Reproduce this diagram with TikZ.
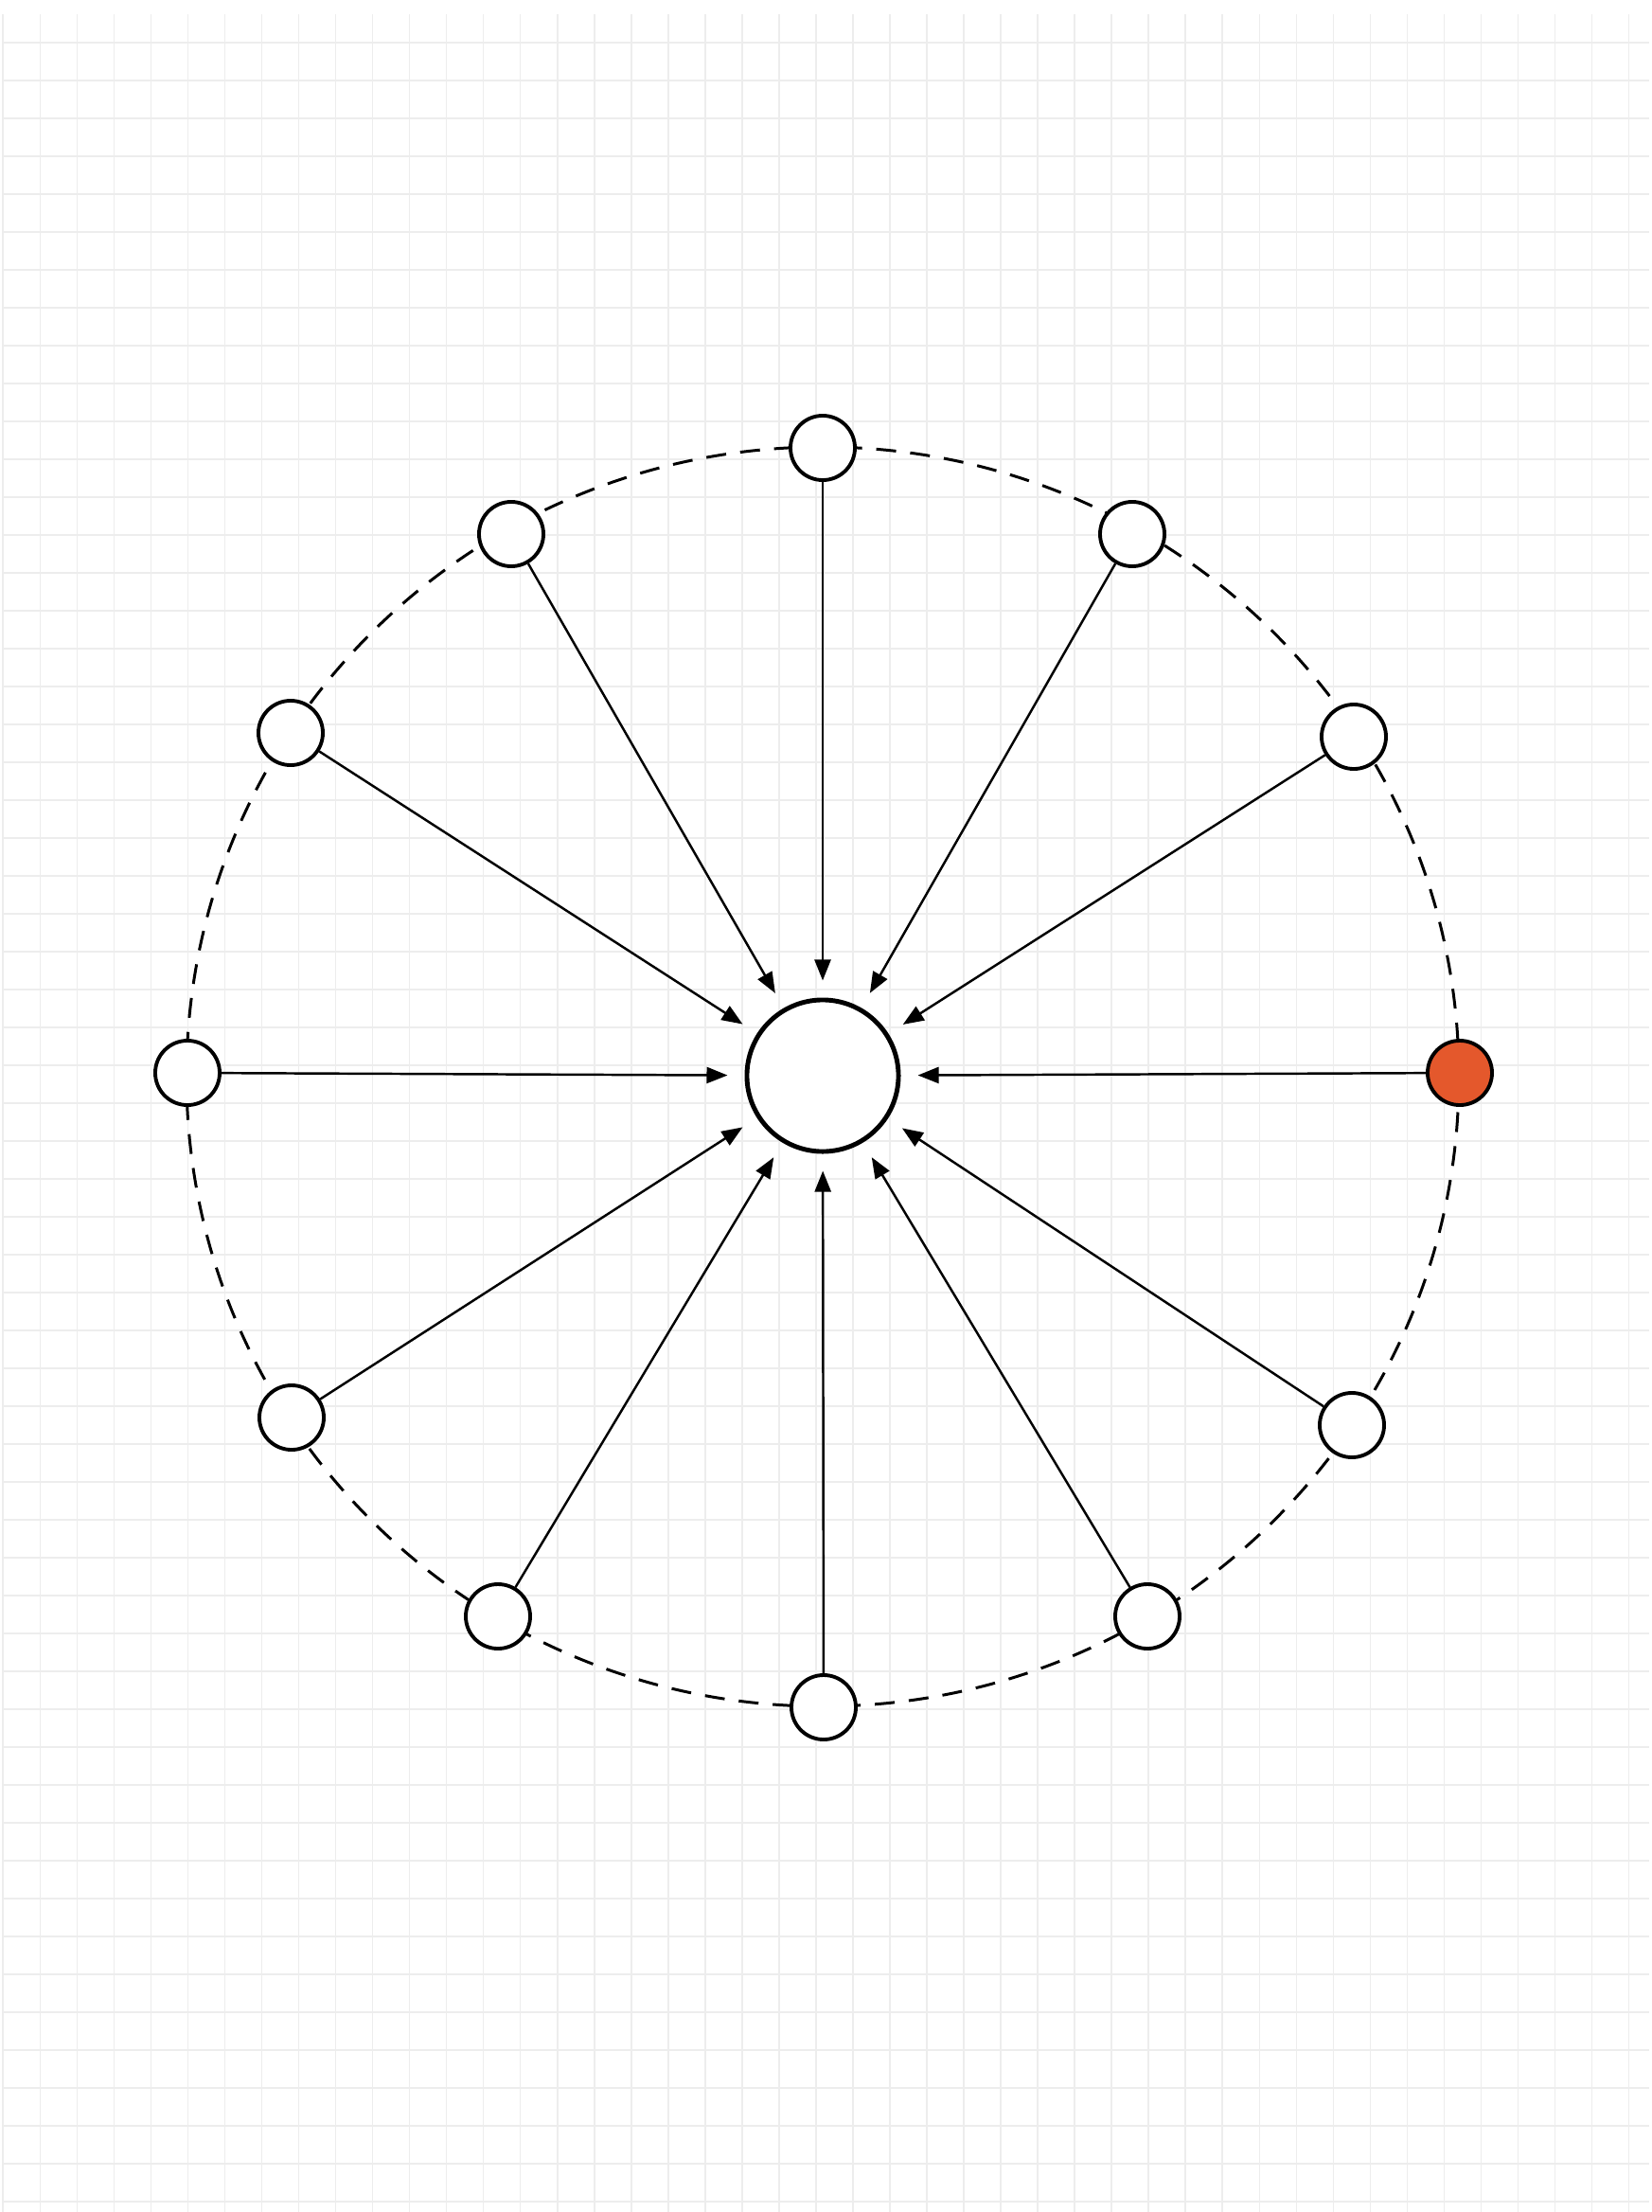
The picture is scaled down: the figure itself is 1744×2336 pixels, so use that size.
\documentclass[tikz,border=0pt]{standalone}
\usepackage{tikz}
\usetikzlibrary{arrows.meta}
\definecolor{hotorange}{RGB}{228,88,44}
\tikzstyle{gridline} = [draw=black!7, line width=0.45pt]
\tikzstyle{ring} = [draw=black, line width=0.85pt, dash pattern=on 2.1mm off 1.5mm]
\tikzstyle{spoke} = [circle, draw=black, line width=1.1pt, fill=white,
    minimum size=6.8mm, inner sep=0pt]
\tikzstyle{hub} = [circle, draw=black, line width=1.4pt, fill=white,
    minimum size=16mm, inner sep=0pt]
\tikzstyle{feed} = [-{Triangle[length=2.2mm,width=1.7mm]}, line width=0.7pt,
    shorten >=1.8mm]

\begin{document}
\begin{tikzpicture}[x=0.01cm, y=0.01cm]
    \fill[white] (0,0) rectangle (1744,-2336);
    \useasboundingbox (0,0) rectangle (1744,-2336);
    \begin{scope}[shift={(42.3,-45)}]
        \draw[gridline] (-40,-2300) grid[xstep=39.03, ystep=40] (1700,30);
    \end{scope}

    \draw[ring] (869,-1137) ellipse [x radius=672, y radius=665];

    \node[hub] (hub) at (869,-1136) {};
    \node[spoke] (node1) at (869,-473) {};
    \node[spoke] (node2) at (1196,-564) {};
    \node[spoke] (node3) at (1430,-778) {};
    \node[spoke, fill=hotorange] (node4) at (1542,-1133) {};
    \node[spoke] (node5) at (1428,-1505) {};
    \node[spoke] (node6) at (1212,-1707) {};
    \node[spoke] (node7) at (870,-1803) {};
    \node[spoke] (node8) at (526,-1707) {};
    \node[spoke] (node9) at (308,-1497) {};
    \node[spoke] (node10) at (198,-1133) {};
    \node[spoke] (node11) at (307,-774) {};
    \node[spoke] (node12) at (540,-564) {};

    \draw[feed] (node1) -- (hub);
    \draw[feed] (node2) -- (hub);
    \draw[feed] (node3) -- (hub);
    \draw[feed] (node4) -- (hub);
    \draw[feed] (node5) -- (hub);
    \draw[feed] (node6) -- (hub);
    \draw[feed] (node7) -- (hub);
    \draw[feed] (node8) -- (hub);
    \draw[feed] (node9) -- (hub);
    \draw[feed] (node10) -- (hub);
    \draw[feed] (node11) -- (hub);
    \draw[feed] (node12) -- (hub);
\end{tikzpicture}
\end{document}
